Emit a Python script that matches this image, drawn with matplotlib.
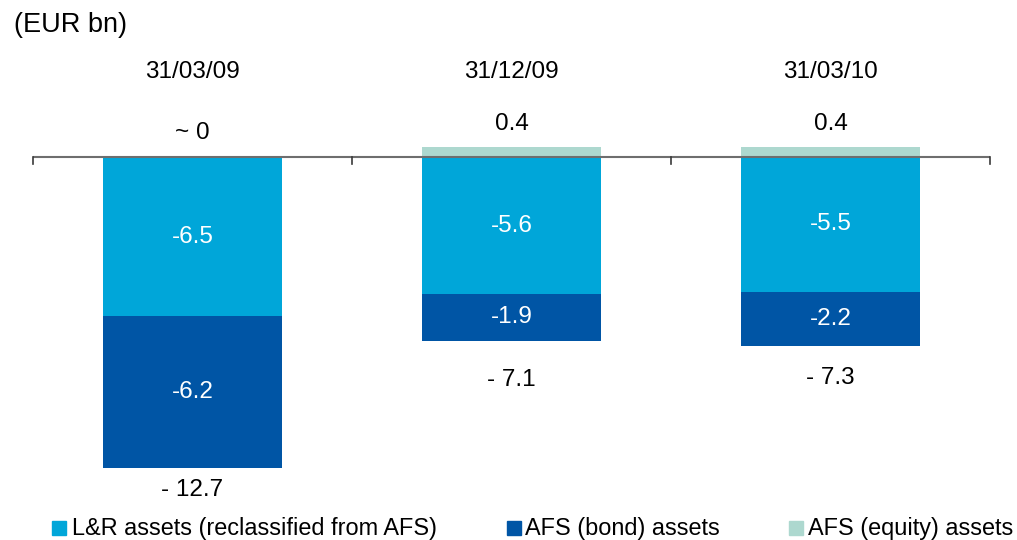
import matplotlib
matplotlib.use("Agg")
import matplotlib.pyplot as plt
from matplotlib.patches import Rectangle

plt.rcParams['font.family'] = ['Liberation Sans', 'DejaVu Sans']

# Reserve components by reporting date (EUR bn)
dates = ["31/03/09", "31/12/09", "31/03/10"]
lr_assets = [-6.5, -5.6, -5.5]       # L&R assets (reclassified from AFS)
afs_bond = [-6.2, -1.9, -2.2]        # AFS (bond) assets
afs_equity = [0.0, 0.4, 0.4]         # AFS (equity) assets
equity_labels = ["~ 0", "0.4", "0.4"]
series_names = ["L&R assets (reclassified from AFS)", "AFS (bond) assets", "AFS (equity) assets"]

c_lr = "#00A6D9"
c_bond = "#0055A5"
c_eq = "#ADD8CF"

W, H = 1017, 540
fig = plt.figure(figsize=(W / 100, H / 100), dpi=100)

# axes placed in pixel terms: x from 33 to 990, y from 100 to 480 (top-down)
ax = fig.add_axes([33 / W, (H - 480) / H, (990 - 33) / W, 380 / H])
ax.set_xlim(-0.5, 2.5)
ax.set_ylim(-(480 - 157) / 24.5, (157 - 100) / 24.5)
for s in ax.spines.values():
    s.set_visible(False)
ax.set_xticks([])
ax.set_yticks([])

x = list(range(len(dates)))
bw = 0.558
ax.bar(x, afs_equity, bw, bottom=0, color=c_eq, zorder=2)
ax.bar(x, lr_assets, bw, bottom=0, color=c_lr, zorder=2)
ax.bar(x, afs_bond, bw, bottom=lr_assets, color=c_bond, zorder=2)

# zero line with category separators
ax.axhline(0, color="#6E6E6E", lw=1.5, zorder=3)
for b in [-0.5, 0.5, 1.5, 2.5]:
    ax.plot([b, b], [0, -7 / 24.5], color="#3A3A3A", lw=1.2, zorder=3, clip_on=False)

fs = 17.5
for i in x:
    ax.text(i, lr_assets[i] / 2, f"{lr_assets[i]:.1f}", color="white", fontsize=fs,
            ha="center", va="center", zorder=4)
    ax.text(i, lr_assets[i] + afs_bond[i] / 2, f"{afs_bond[i]:.1f}", color="white",
            fontsize=fs, ha="center", va="center", zorder=4)

# equity value above the bars
for i in x:
    ax.annotate(equity_labels[i], (i, max(afs_equity[i], 0)), xytext=(0, 24 if afs_equity[i] == 0 else 23),
                textcoords="offset pixels", ha="center", va="center", fontsize=fs)

# net totals beneath the bars
total_offsets = [22, 39, 32]
for i in x:
    total = lr_assets[i] + afs_bond[i] + afs_equity[i]
    bottom = lr_assets[i] + afs_bond[i]
    ax.annotate(f"- {abs(total):.1f}", (i, bottom), xytext=(0, -total_offsets[i]),
                textcoords="offset pixels", ha="center", va="center", fontsize=fs)

# date headers
for i in x:
    ax.annotate(dates[i], (i, 0), xytext=(0, 157 - 72), textcoords="offset pixels",
                ha="center", va="center", fontsize=fs)

fig.text(14 / W, 1 - 25 / H, "(EUR bn)", fontsize=19.5, ha="left", va="center")

# legend row
leg_sq = [52, 507, 789]
leg_tx = [72, 525, 808]
cols = [c_lr, c_bond, c_eq]
for sx, tx, col, name in zip(leg_sq, leg_tx, cols, series_names):
    fig.patches.append(Rectangle((sx / W, 1 - 535 / H), 14 / W, 14 / H,
                                 transform=fig.transFigure, color=col))
    fig.text(tx / W, 1 - 528 / H, name, fontsize=16.9, ha="left", va="center")

fig.savefig("out.png", dpi=100)
